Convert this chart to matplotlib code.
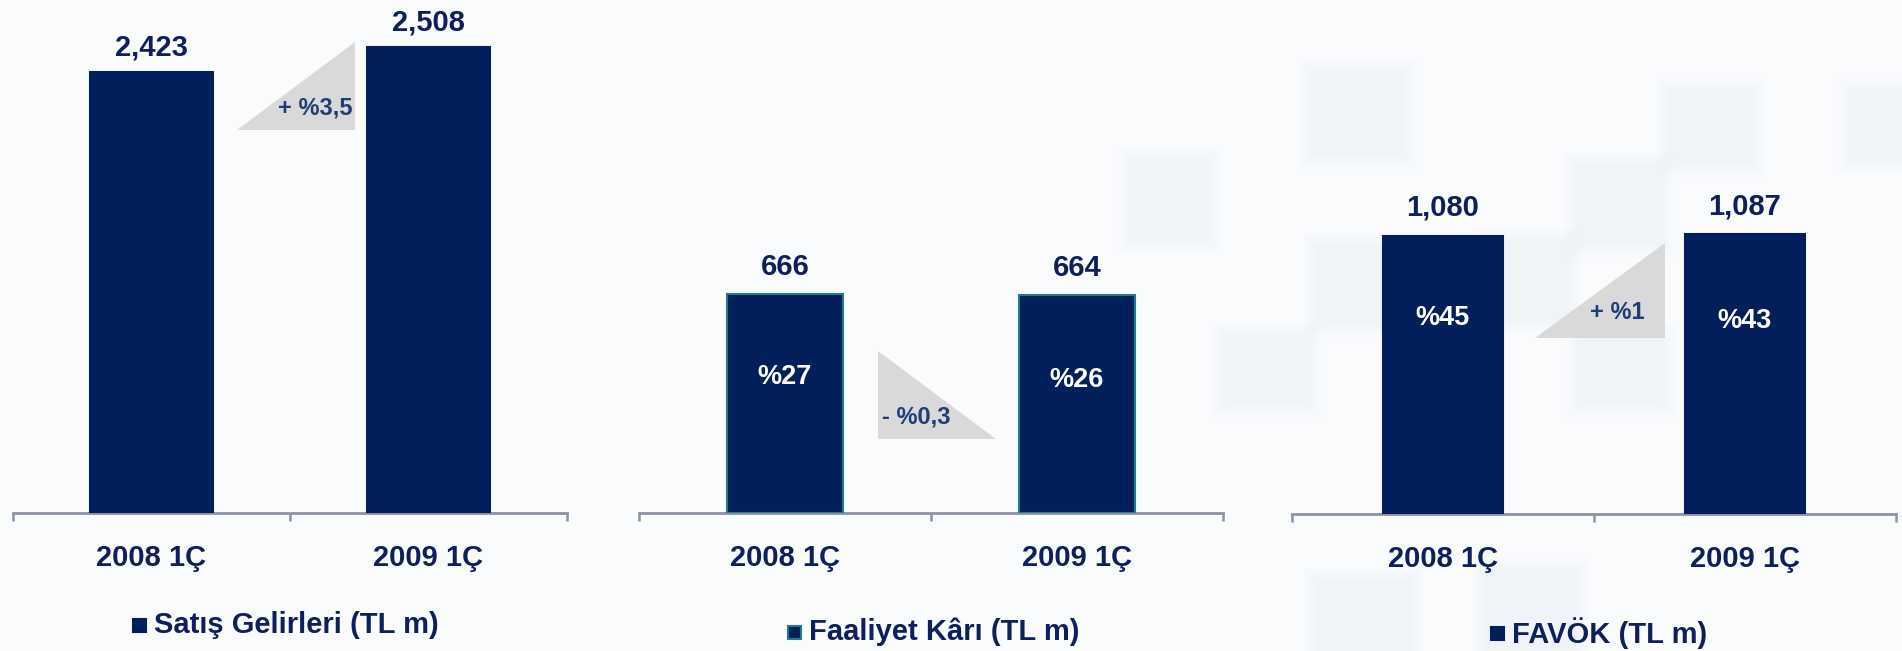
import matplotlib
matplotlib.use("Agg")
import matplotlib.pyplot as plt
from matplotlib.patches import Polygon, Rectangle

plt.rcParams['font.family'] = ['Liberation Sans', 'DejaVu Sans']
plt.rcParams['font.weight'] = 'bold'

categories = ["2008 1Ç", "2009 1Ç"]

sales = [2423, 2508]
op_profit = [666, 664]
ebitda = [1080, 1087]

sales_labels = ["2,423", "2,508"]
op_labels = ["666", "664"]
ebitda_labels = ["1,080", "1,087"]

op_margin = ["%27", "%26"]
ebitda_margin = ["%45", "%43"]

titles = ["Satış Gelirleri (TL m)", "Faaliyet Kârı (TL m)", "FAVÖK (TL m)"]
changes = ["+ %3,5", "- %0,3", "+ %1"]

W, H = 1902, 651
NAVY = "#001f5b"
TEXT = "#0d1f5c"
CHG = "#1f3d78"
AXIS = "#8c91a8"
GRAY = "#d9d9d9"
TEAL = "#1f7a93"


def fx(x):
    return x / W


def fy(y):
    return 1 - y / H


fig = plt.figure(figsize=(W / 100, H / 100), dpi=100)
fig.patch.set_facecolor("#fafbfd")

# faint background squares (decoration), behind everything
bg = fig.add_axes([0, 0, 1, 1], zorder=-10)
bg.set_xlim(0, W)
bg.set_ylim(H, 0)
bg.axis("off")
squares = [(1310, 72, 95, 85), (1577, 165, 85, 80), (1668, 90, 85, 75), (1850, 90, 52, 70),
           (1316, 245, 95, 80), (1485, 240, 85, 80), (1225, 335, 85, 70), (1578, 335, 85, 70),
           (1316, 580, 95, 71), (1485, 570, 90, 81), (1130, 160, 80, 80)]
for (x, y, w, h) in squares:
    for g in [12, 8, 4, 0]:
        bg.add_patch(Rectangle((x - g, y - g), w + 2 * g, h + 2 * g, color="#e6eef7",
                               alpha=0.12, lw=0))

panels = [
    dict(x0=13, x1=567, base=513, lim=(923, 2668), width=0.447, vals=sales, labels=sales_labels,
         inner=None, off=25, edge=NAVY),
    dict(x0=639, x1=1223, base=513, lim=(0, 1559), width=0.40, vals=op_profit, labels=op_labels,
         inner=(op_margin, [0.62, 0.61]), off=27, edge=TEAL),
    dict(x0=1292, x1=1896, base=514, lim=(0, 1996), width=0.397, vals=ebitda, labels=ebitda_labels,
         inner=(ebitda_margin, [0.705, 0.69]), off=28, edge=NAVY),
]

for p in panels:
    ax = fig.add_axes([fx(p["x0"]), fy(p["base"]), fx(p["x1"] - p["x0"]), p["base"] / H])
    ax.set_facecolor("none")
    ax.bar(range(2), p["vals"], width=p["width"], color=NAVY, edgecolor=p["edge"],
           linewidth=1.5, zorder=3)
    ax.set_xlim(-0.5, 1.5)
    ax.set_ylim(*p["lim"])
    for s in ["top", "left", "right"]:
        ax.spines[s].set_visible(False)
    ax.spines["bottom"].set_color(AXIS)
    ax.spines["bottom"].set_linewidth(2)
    ax.set_yticks([])
    ax.set_xticks([-0.5, 0.5, 1.5])
    ax.set_xticklabels([])
    ax.tick_params(axis="x", direction="out", length=6, width=1.8, color=AXIS)
    for i, v in enumerate(p["vals"]):
        ax.annotate(p["labels"][i], (i, v), xytext=(0, p["off"] * 0.72), textcoords="offset points",
                    ha="center", va="center", fontsize=21, color=TEXT, fontweight="bold")
        ax.annotate(categories[i], (i, p["lim"][0]), xytext=(0, -45 * 0.72), textcoords="offset points",
                    ha="center", va="center", fontsize=21, color=TEXT, fontweight="bold",
                    annotation_clip=False)
    if p["inner"]:
        texts, fr = p["inner"]
        for i, v in enumerate(p["vals"]):
            ax.text(i, v * fr[i], texts[i], ha="center", va="center", fontsize=19.5,
                    color="white", fontweight="bold", zorder=4)

# change triangles
tris = [[(237, 130), (355, 42), (355, 130)],
        [(878, 351), (878, 439), (996, 439)],
        [(1535, 338), (1665, 243), (1665, 338)]]
for t in tris:
    fig.patches.append(Polygon([(fx(x), fy(y)) for x, y in t], closed=True,
                               transform=fig.transFigure, color=GRAY, lw=0, zorder=1))

fig.text(fx(353), fy(108), changes[0], ha="right", va="center", fontsize=17, color=CHG)
fig.text(fx(882), fy(417), changes[1], ha="left", va="center", fontsize=17, color=CHG)
fig.text(fx(1645), fy(313), changes[2], ha="right", va="center", fontsize=17, color=CHG)

# legends
legs = [(133, 625, NAVY), (788, 632, TEAL), (1491, 633, NAVY)]
for (x, y, ec), title in zip(legs, titles):
    fig.patches.append(Rectangle((fx(x), fy(y + 7)), fx(13), 13 / H, transform=fig.transFigure,
                                 facecolor=NAVY, edgecolor=ec, lw=1.5))
    fig.text(fx(x + 21), fy(y), title, ha="left", va="center", fontsize=21, color=TEXT)

fig.savefig("out.png", dpi=100, facecolor=fig.get_facecolor())
